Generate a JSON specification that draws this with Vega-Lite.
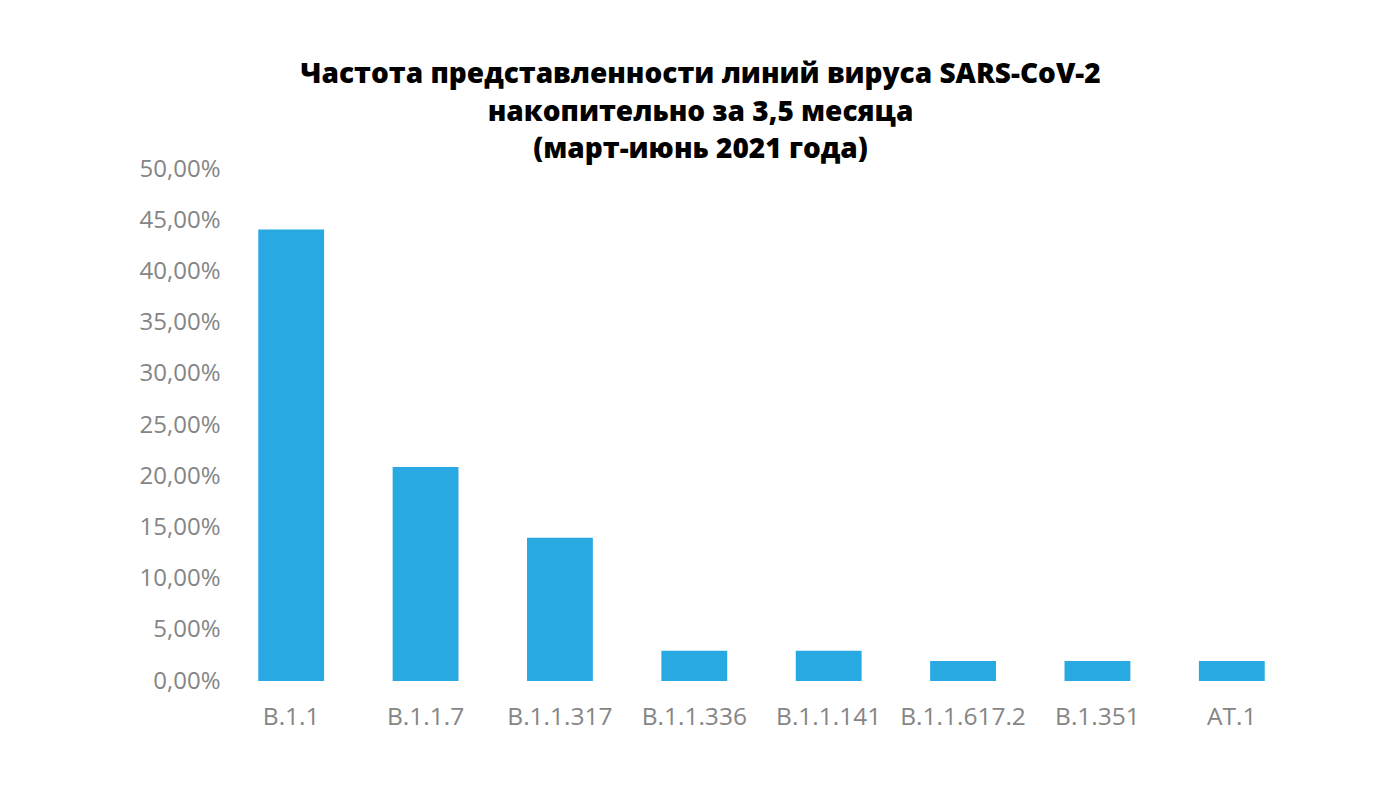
{
  "$schema": "https://vega.github.io/schema/vega-lite/v6.json",
  "autosize": "none",
  "width": 1075,
  "height": 512,
  "padding": {"left": 224, "top": 169, "right": 101, "bottom": 107},
  "background": "white",
  "title": {
    "text": ["Частота представленности линий вируса SARS-CoV-2", "накопительно за 3,5 месяца", "(март-июнь 2021 года)"],
    "font": "Open Sans",
    "fontSize": 28,
    "fontWeight": 800,
    "color": "#000000",
    "lineHeight": 37.5,
    "anchor": "middle",
    "frame": "group",
    "dx": -61,
    "offset": -7
  },
  "data": {
    "values": [
      {"lineage": "B.1.1", "share": 44.1},
      {"lineage": "B.1.1.7", "share": 20.9},
      {"lineage": "B.1.1.317", "share": 14.0},
      {"lineage": "B.1.1.336", "share": 2.95},
      {"lineage": "B.1.1.141", "share": 2.95},
      {"lineage": "B.1.1.617.2", "share": 1.95},
      {"lineage": "B.1.351", "share": 1.95},
      {"lineage": "AT.1", "share": 1.95}
    ]
  },
  "mark": {"type": "bar", "color": "#29A9E1"},
  "encoding": {
    "x": {
      "field": "lineage",
      "type": "nominal",
      "sort": null,
      "scale": {"paddingInner": 0.51, "paddingOuter": 0.255},
      "axis": {
        "title": null,
        "labelAngle": 0,
        "domain": false,
        "ticks": false,
        "labelFont": "Open Sans",
        "labelFontSize": 24.5,
        "labelFontWeight": 400,
        "labelColor": "#858585",
        "labelPadding": 24
      }
    },
    "y": {
      "field": "share",
      "type": "quantitative",
      "scale": {"domain": [0, 50], "nice": false},
      "axis": {
        "title": null,
        "values": [0, 5, 10, 15, 20, 25, 30, 35, 40, 45, 50],
        "labelExpr": "replace(format(datum.value, '.2f'), '.', ',') + '%'",
        "domain": false,
        "ticks": false,
        "grid": false,
        "labelFont": "Open Sans",
        "labelFontSize": 24,
        "labelFontWeight": 400,
        "labelColor": "#858585",
        "labelPadding": 4
      }
    }
  },
  "config": {"view": {"stroke": null}}
}
